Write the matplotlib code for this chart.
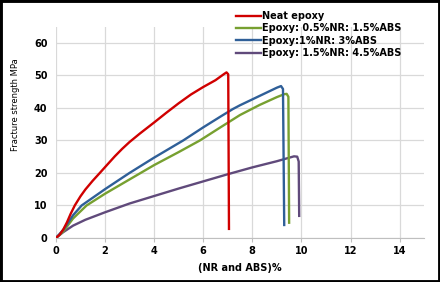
import matplotlib
matplotlib.use("Agg")
import matplotlib.pyplot as plt
from matplotlib.patches import Rectangle

# curves (strain %, strength MPa)
neat_x = [0, 0.15, 0.3, 0.45, 0.6, 0.77, 1.0, 1.2, 1.5, 1.79, 2.1, 2.4, 2.7, 3.0, 3.42, 4.0, 4.5, 5.0, 5.5, 6.0, 6.5, 6.85, 6.95, 7.02, 7.05]
neat_y = [0, 1.0, 2.6, 4.8, 7.4, 10.0, 12.8, 14.9, 17.6, 20.0, 22.6, 25.1, 27.4, 29.5, 32.1, 35.5, 38.5, 41.4, 44.1, 46.4, 48.5, 50.4, 50.9, 50.3, 2.8]

green_x = [0, 0.3, 0.7, 1.25, 2.0, 3.0, 4.0, 5.0, 5.87, 6.68, 7.5, 8.3, 9.0, 9.3, 9.4, 9.47, 9.5]
green_y = [0, 2.0, 6.0, 10.0, 13.6, 18.0, 22.4, 26.4, 30.0, 33.9, 37.8, 40.9, 43.3, 44.2, 44.3, 43.4, 4.7]

blue_x = [0, 0.3, 0.7, 1.05, 2.0, 3.0, 4.0, 5.19, 6.0, 6.68, 7.2, 7.5, 8.0, 8.5, 9.0, 9.17, 9.25, 9.3]
blue_y = [0, 2.5, 7.0, 10.0, 15.0, 20.0, 24.7, 30.0, 34.0, 37.2, 39.6, 40.8, 42.6, 44.4, 46.2, 46.7, 45.8, 4.0]

purple_x = [0, 0.3, 0.7, 1.2, 2.0, 3.0, 4.0, 5.0, 6.0, 7.0, 8.0, 9.0, 9.7, 9.83, 9.89, 9.91]
purple_y = [0, 1.8, 3.8, 5.6, 7.9, 10.6, 12.9, 15.2, 17.4, 19.6, 21.7, 23.6, 25.1, 25.0, 23.5, 6.8]

labels = ["Neat epoxy", "Epoxy: 0.5%NR: 1.5%ABS", "Epoxy:1%NR: 3%ABS", "Epoxy: 1.5%NR: 4.5%ABS"]
colors = ["#D00000", "#77A030", "#2F5F98", "#604A7B"]

fig = plt.figure(figsize=(4.4, 2.82), dpi=100)
ax = fig.add_axes([0.127, 0.156, 0.837, 0.75])

curves = [(neat_x, neat_y), (green_x, green_y), (blue_x, blue_y), (purple_x, purple_y)]
zorders = [5, 3, 4, 2]
handles = []
for (x, y), c, lab, z in zip(curves, colors, labels, zorders):
    h, = ax.plot(x, y, color=c, lw=1.7, label=lab, zorder=z, solid_joinstyle="round")
    handles.append(h)

ax.set_xlim(0, 15)
ax.set_ylim(0, 65)
ax.set_xticks(range(0, 15, 2))
ax.set_yticks(range(0, 61, 10))
ax.grid(True, color="#D9D9D9", lw=0.9)
ax.set_axisbelow(True)
for s in ["top", "right", "left"]:
    ax.spines[s].set_visible(False)
ax.spines["bottom"].set_color("#BFBFBF")
ax.tick_params(axis="x", length=3, color="#BFBFBF", labelsize=7, pad=3)
ax.tick_params(axis="y", length=0, labelsize=7, pad=6)
for t in ax.get_xticklabels() + ax.get_yticklabels():
    t.set_fontweight("bold")

ax.set_xlabel("(NR and ABS)%", fontsize=7, fontweight="bold", labelpad=5)
ax.set_ylabel("Fracture strength MPa", fontsize=6)
ax.yaxis.set_label_coords(-0.098, 0.63)

fig.legend(handles=handles, loc="upper left", bbox_to_anchor=(0.52, 0.985),
           frameon=False, prop={"size": 7, "weight": "bold"},
           handlelength=2.6, handletextpad=0.1, labelspacing=0.25, borderpad=0.2)

fig.patches.append(Rectangle((0, 0), 1, 1, transform=fig.transFigure, fill=False,
                             edgecolor="black", lw=3.5))

fig.savefig("out.png", dpi=100)
